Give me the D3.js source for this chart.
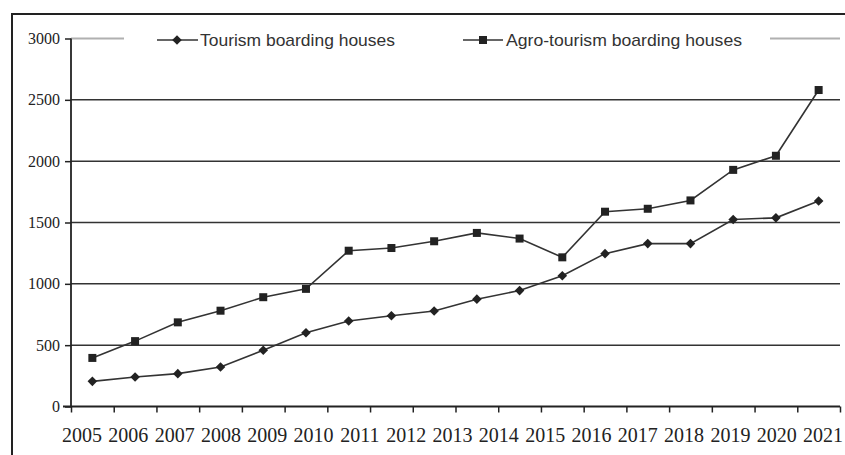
<!DOCTYPE html>
<html><head><meta charset="utf-8">
<script src="https://cdn.jsdelivr.net/npm/d3@7"></script>
<style>body{margin:0;background:#fff}svg{display:block}</style>
</head><body>
<svg id="c" width="845" height="455"></svg>
<script>
const yearLabels = ["2005","2006","2007","2008","2009","2010","2011","2012","2013","2014","2015","2016","2017","2018","2019","2020","2021"];
const tourism = [205,240,268,322,459,601,697,740,779,875,945,1066,1246,1328,1328,1525,1538,1675];
const agro    = [396,533,686,781,891,959,1270,1292,1347,1415,1369,1216,1588,1612,1680,1929,2044,2580];
const yTicks = [0,500,1000,1500,2000,2500,3000];
const seriesNames = ["Tourism boarding houses","Agro-tourism boarding houses"];

(function(){
const svg = d3.select("#c");
const pLeft = 71, pRight = 840, pTop = 38.5, pBottom = 406.5;
const nSlots = tourism.length;
const x = d3.scaleLinear().domain([0, nSlots]).range([pLeft, pRight]);
const y = d3.scaleLinear().domain([0, 3000]).range([pBottom, pTop]);
const xl = d3.scalePoint().domain(yearLabels).range([82, 823]);

// outer frame
svg.append("rect").attr("x",12).attr("y",14).attr("width",850).attr("height",460)
  .attr("fill","none").attr("stroke","#222").attr("stroke-width",2);

// grid lines
svg.append("g").selectAll("line").data(yTicks.filter(d=>d>0)).join("line")
  .attr("x1",pLeft).attr("x2",pRight).attr("y1",d=>y(d)).attr("y2",d=>y(d))
  .attr("stroke",d=>d===3000?"#b0b0b0":"#333").attr("stroke-width",d=>d===3000?2:1.5);

// y axis
const ya = svg.append("g").attr("transform",`translate(${pLeft},0)`)
  .call(d3.axisLeft(y).tickValues(yTicks).tickSize(6).tickPadding(5).tickFormat(d3.format("d")));
ya.select(".domain").attr("stroke","#222").attr("stroke-width",1.8).attr("d",`M0,${y(3000)}V${pBottom}`);
ya.selectAll(".tick line").attr("stroke","#222").attr("stroke-width",1.5);
ya.selectAll(".tick text").attr("font-family","'Liberation Serif','Times New Roman',serif")
  .attr("font-size",16).attr("fill","#222");

// x axis ticks
const xa = svg.append("g").attr("transform",`translate(0,${pBottom})`)
  .call(d3.axisBottom(x).tickValues(d3.range(nSlots+1)).tickSize(6).tickFormat(""));
xa.select(".domain").attr("stroke","#222").attr("stroke-width",2.2).attr("d",`M${pLeft-8},0H${pRight}`);
xa.selectAll(".tick line").attr("stroke","#222").attr("stroke-width",1.5);

// year labels
svg.append("g").selectAll("text").data(yearLabels).join("text")
  .attr("x",d=>xl(d)).attr("y",442).attr("text-anchor","middle")
  .attr("font-family","'Liberation Serif','Times New Roman',serif").attr("font-size",20).attr("fill","#222")
  .text(d=>d);

// lines
const line = d3.line().x((d,i)=>x(i+0.5)).y(d=>y(d));
[tourism, agro].forEach(s=>{
  svg.append("path").datum(s).attr("d",line).attr("fill","none").attr("stroke","#333").attr("stroke-width",1.6);
});
const diamond = d3.symbol().type(d3.symbolSquare).size(46);
svg.append("g").selectAll("path").data(tourism).join("path")
  .attr("d",diamond).attr("transform",(d,i)=>`translate(${x(i+0.5)},${y(d)}) rotate(45)`).attr("fill","#222");
svg.append("g").selectAll("rect").data(agro).join("rect")
  .attr("x",(d,i)=>x(i+0.5)-4).attr("y",d=>y(d)-4).attr("width",8).attr("height",8).attr("fill","#222");

// legend
svg.append("rect").attr("x",124).attr("y",26).attr("width",646).attr("height",26).attr("fill","#fff");
const lg = svg.append("g").attr("font-family","'Liberation Sans',Arial,sans-serif").attr("font-size",17).attr("fill","#333");
lg.append("line").attr("x1",157).attr("x2",198).attr("y1",40).attr("y2",40).attr("stroke","#333").attr("stroke-width",1.6);
lg.append("path").attr("d",diamond).attr("transform","translate(177,40) rotate(45)").attr("fill","#222");
lg.append("text").attr("x",200).attr("y",46).attr("textLength",195).attr("lengthAdjust","spacingAndGlyphs").text(seriesNames[0]);
lg.append("line").attr("x1",463).attr("x2",503).attr("y1",40).attr("y2",40).attr("stroke","#333").attr("stroke-width",1.6);
lg.append("rect").attr("x",479).attr("y",36).attr("width",8).attr("height",8).attr("fill","#222");
lg.append("text").attr("x",506).attr("y",46).attr("textLength",236).attr("lengthAdjust","spacingAndGlyphs").text(seriesNames[1]);
})();
</script>
</body></html>
